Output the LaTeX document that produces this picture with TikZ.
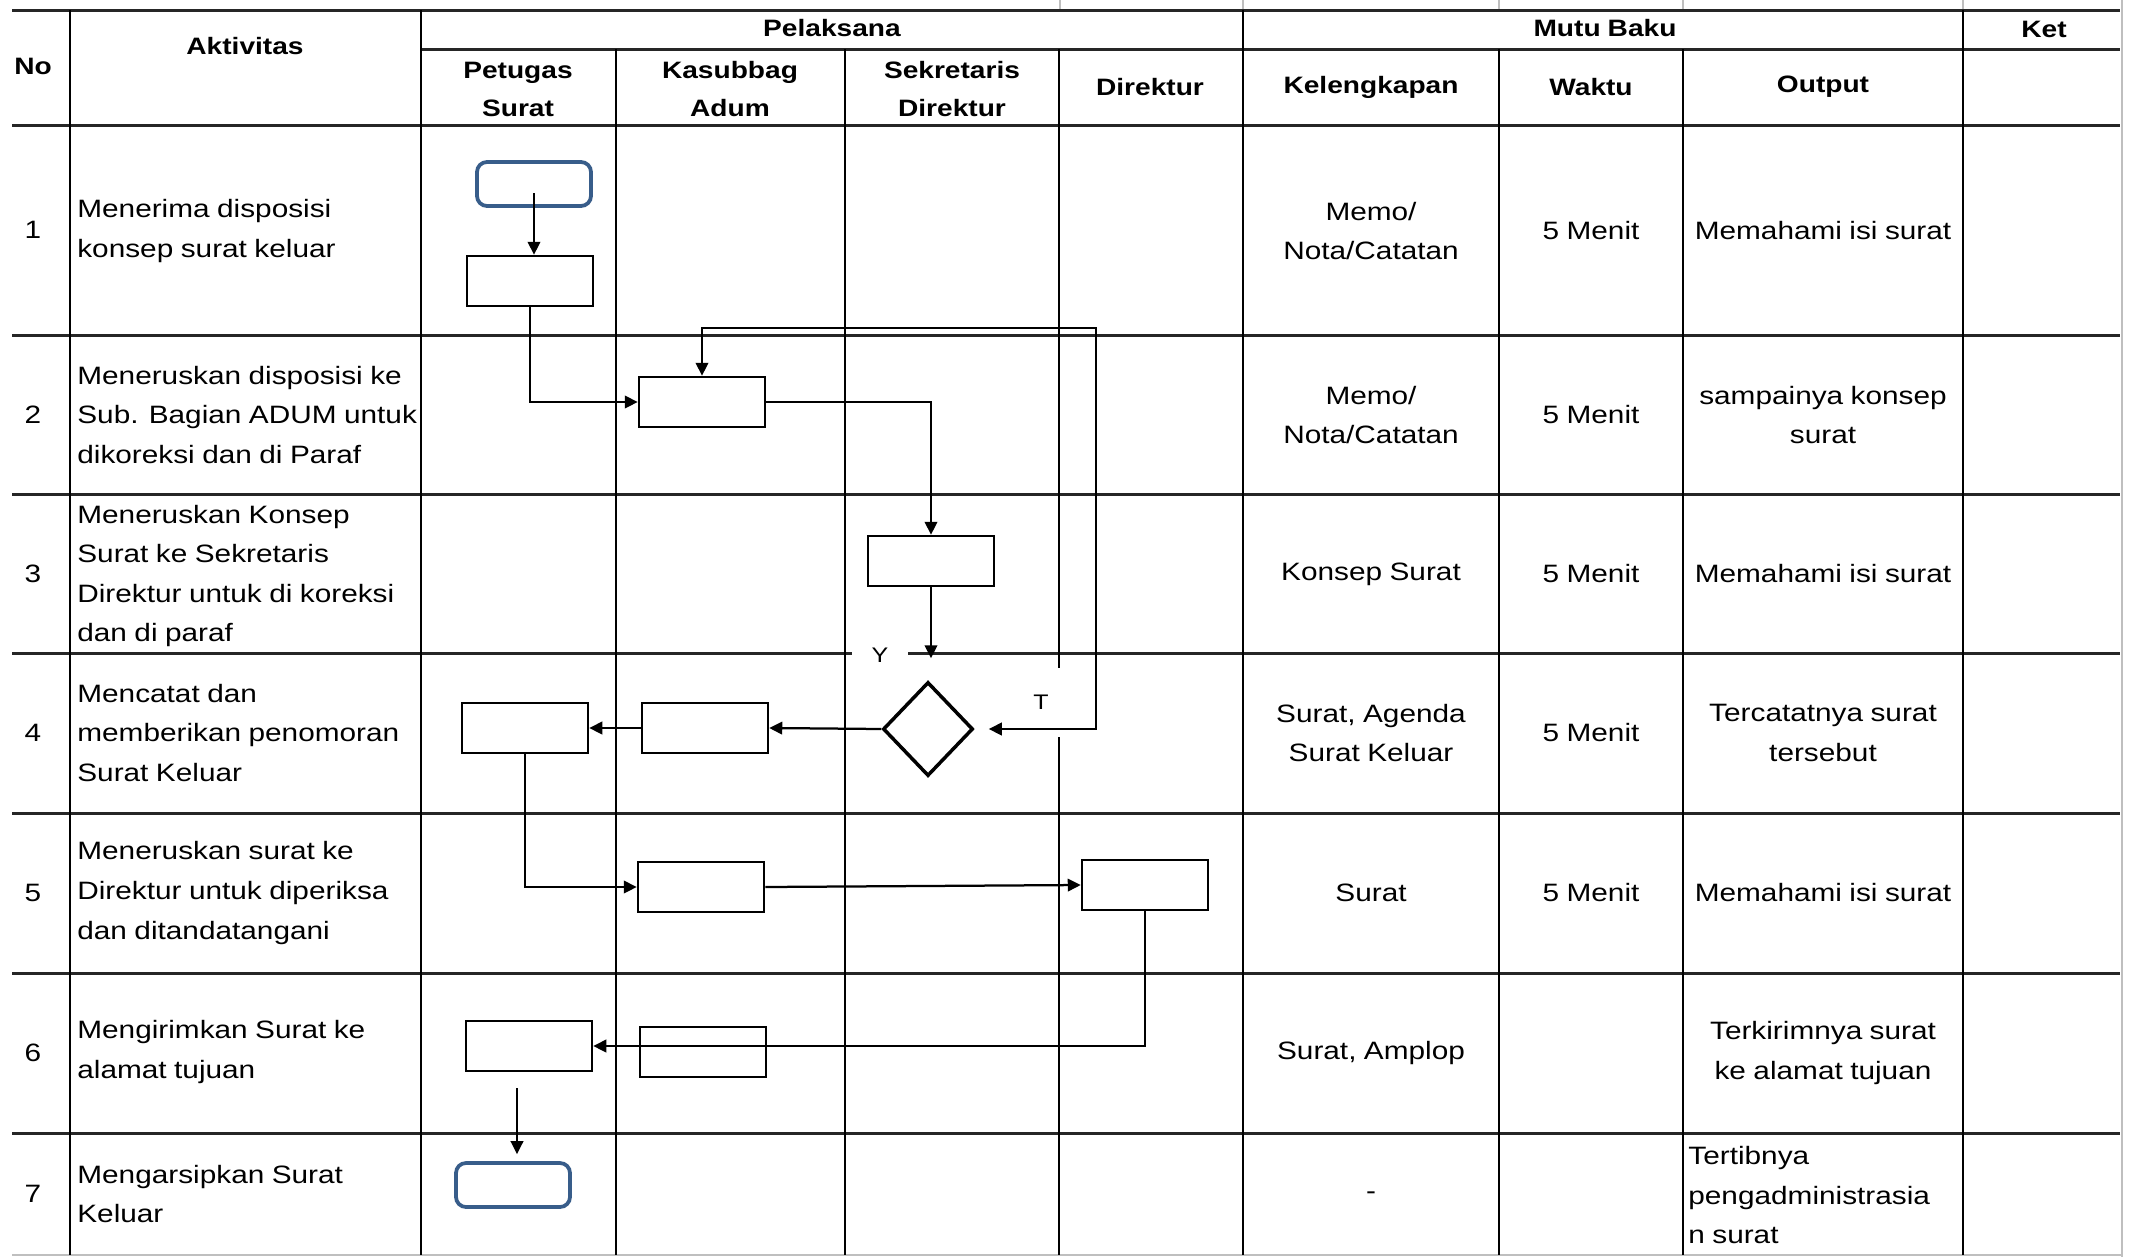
\documentclass[tikz,border=0pt]{standalone}
\usepackage{fontspec}
\setmainfont[FakeStretch=1.185, WordSpace=0.9]{Liberation Sans}
\usetikzlibrary{shapes.geometric,arrows.meta,calc}
\definecolor{termblue}{RGB}{56,93,138}

\begin{document}
\begin{tikzpicture}[x=0.2mm, y=-0.2mm,
        hline/.style={line width=0.6mm, black!85},
        vline/.style={line width=0.45mm, black},
        faint/.style={line width=0.4mm, black!25},
        hdr/.style={font=\fontsize{13.5}{21.6}\selectfont\bfseries, align=center, inner sep=0pt},
        cell/.style={font=\fontsize{14.3}{22.5}\selectfont, align=center, inner sep=0pt},
        act/.style={font=\fontsize{14.3}{22.5}\selectfont, align=left, anchor=west, inner sep=0pt},
        proc/.style={draw, line width=0.5mm, fill=white, minimum width=25.2mm, minimum height=10mm, inner sep=0pt},
        term/.style={draw=termblue, line width=0.75mm, rounded corners=2mm, fill=white, minimum width=22.8mm, minimum height=8.8mm, inner sep=0pt},
        decide/.style={diamond, draw, line width=0.7mm, fill=white, minimum width=18mm, minimum height=18.8mm, inner sep=0pt},
        flag/.style={font=\fontsize{12}{14}\selectfont, fill=white, inner sep=0pt},
        arr/.style={line width=0.45mm, -{Triangle[length=2.6mm, width=2.5mm]}}
    ]
        \useasboundingbox (0,0) rectangle (2132,1257);

        % spreadsheet grid outside the table
        \foreach \gx in {1060,1243,1499,1683,1963} \draw[faint] (\gx,0) -- (\gx,10);
        \draw[faint] (2122,0) -- (2122,1257);
        \draw[faint] (12,1255) -- (2122,1255);

        % table rules
        \draw[hline] (12,10) -- (2120,10);
        \draw[hline] (421,49) -- (2120,49);
        \foreach \ry in {125,335,494,653,813,973,1133} \draw[hline] (12,\ry) -- (2120,\ry);
        \foreach \cx in {70,421,1243,1963} \draw[vline] (\cx,10) -- (\cx,1255);
        \foreach \cx in {616,845,1059,1499,1683} \draw[vline] (\cx,49) -- (\cx,1255);

        % header
        \node[hdr] (hno) at (33,66) {No};
        \node[hdr] (hakt) at (245,46) {Aktivitas};
        \node[hdr] (hpel) at (832,28) {Pelaksana};
        \node[hdr] (hmutu) at (1605,28) {Mutu Baku};
        \node[hdr] (hket) at (2044,29) {Ket};
        \node[hdr] (hpet) at (518,89) {Petugas\\Surat};
        \node[hdr] (hkas) at (730,89) {Kasubbag\\Adum};
        \node[hdr] (hsek) at (952,89) {Sekretaris\\Direktur};
        \node[hdr] (hdir) at (1150,87) {Direktur};
        \node[hdr] (hkel) at (1371,87) {Kelengkapan};
        \node[hdr] (hwak) at (1591,87) {Waktu};
        \node[hdr] (hout) at (1823,87) {Output};

        % numbers and activities
        \node[cell] (n1) at (33,230) {1};
        \node[cell] (n2) at (33,415) {2};
        \node[cell] (n3) at (33,574) {3};
        \node[cell] (n4) at (33,733) {4};
        \node[cell] (n5) at (33,893) {5};
        \node[cell] (n6) at (33,1053) {6};
        \node[cell] (n7) at (33,1194) {7};

        \node[act] (a1) at (77,231) {Menerima disposisi\\konsep surat keluar};
        \node[act] (a2) at (77,415) {Meneruskan disposisi ke\\Sub. Bagian ADUM untuk\\dikoreksi dan di Paraf};
        \node[act] (a3) at (77,576) {Meneruskan Konsep\\Surat ke Sekretaris\\Direktur untuk di koreksi\\dan di paraf};
        \node[act] (a4) at (77,733) {Mencatat dan\\memberikan penomoran\\Surat Keluar};
        \node[act] (a5) at (77,893) {Meneruskan surat ke\\Direktur untuk diperiksa\\dan ditandatangani};
        \node[act] (a6) at (77,1052) {Mengirimkan Surat ke\\alamat tujuan};
        \node[act] (a7) at (77,1194) {Mengarsipkan Surat\\Keluar};

        % mutu baku
        \node[cell] (k1) at (1371,231) {Memo/\\Nota/Catatan};
        \node[cell] (k2) at (1371,415) {Memo/\\Nota/Catatan};
        \node[cell] (k3) at (1371,574) {Konsep Surat};
        \node[cell] (k4) at (1371,733) {Surat, Agenda\\Surat Keluar};
        \node[cell] (k5) at (1371,893) {Surat};
        \node[cell] (k6) at (1371,1053) {Surat, Amplop};
        \node[cell] (k7) at (1371,1196) {-};

        \node[cell] (w1) at (1591,231) {5 Menit};
        \node[cell] (w2) at (1591,415) {5 Menit};
        \node[cell] (w3) at (1591,574) {5 Menit};
        \node[cell] (w4) at (1591,733) {5 Menit};
        \node[cell] (w5) at (1591,893) {5 Menit};

        \node[cell] (o1) at (1823,231) {Memahami isi surat};
        \node[cell] (o2) at (1823,415) {sampainya konsep\\surat};
        \node[cell] (o3) at (1823,574) {Memahami isi surat};
        \node[cell] (o4) at (1823,733) {Tercatatnya surat\\tersebut};
        \node[cell] (o5) at (1823,893) {Memahami isi surat};
        \node[cell] (o6) at (1823,1053) {Terkirimnya surat\\ke alamat tujuan};
        \node[act] (o7) at (1688,1195) {Tertibnya\\pengadministrasia\\n surat};

        % decision labels
        \node[flag, minimum width=11.2mm, minimum height=5mm] (yes) at (880,655) {Y};
        \node[flag, minimum width=9mm, minimum height=13.8mm] (no) at (1041,702) {T};

        % flow shapes
        \node[term] (start) at (534,184) {};
        \node[proc] (b1) at (530,281) {};
        \node[proc] (b2) at (702,402) {};
        \node[proc] (b3) at (931,561) {};
        \node[decide] (check) at (928,729) {};
        \node[proc] (b4b) at (705,728) {};
        \node[proc] (b4a) at (525,728) {};
        \node[proc] (b5b) at (701,887) {};
        \node[proc] (b5c) at (1145,885) {};
        \node[proc] (b6a) at (529,1046) {};
        \node[proc] (b6b) at (703,1052) {};
        \node[term] (finish) at (513,1185) {};
        \coordinate (loop) at (1096,328);

        % connectors
        \draw[arr] ($(start.center)+(0,9)$) coordinate (p1) -- (p1 |- b1.north);
        \draw[arr] (b1.south) |- (b2.west);
        \draw[arr] (b2.east) -| (b3.north);
        \draw[arr, shorten >=4.4mm] (b3.south) -- (b3.south |- check.north);
        \draw[line width=0.45mm, {Triangle[length=2.6mm, width=2.5mm]}-{Triangle[length=2.6mm, width=2.5mm]}, shorten <=2.8mm]
            (check.east) -| (loop) -| (b2.north);
        \draw[arr] (check.west) -- (b4b.east);
        \draw[arr] (b4b.west) -- (b4a.east);
        \draw[arr] (b4a.south) |- (b5b.west);
        \draw[arr] (b5b.east) -- (b5c.west);
        \draw[arr] (b5c.south) |- (b6a.east);
        \draw[arr, shorten >=1.4mm] ($(b6a.south)+(-12,16)$) coordinate (p2) -- (p2 |- finish.north);

    \end{tikzpicture}
\end{document}
